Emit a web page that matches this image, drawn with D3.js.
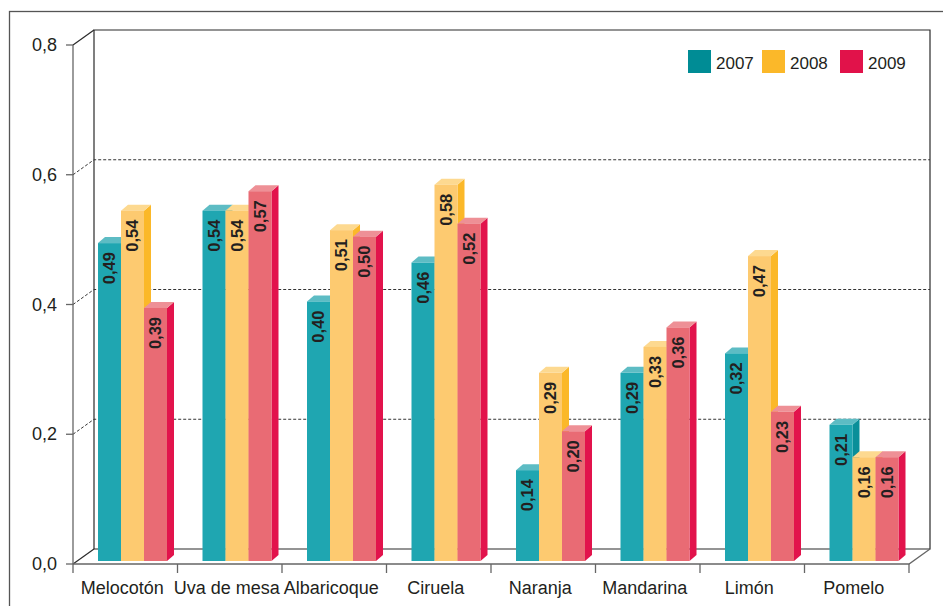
<!DOCTYPE html>
<html>
<head>
<meta charset="utf-8">
<script src="https://cdn.jsdelivr.net/npm/d3@7"></script>
<style>
  body { margin: 0; background: #fff; }
  text { font-family: "Liberation Sans", Arial, sans-serif; fill: #231f20; }
</style>
</head>
<body>
<div id="chart"></div>
<script>
// data
const categories = ["Melocotón", "Uva de mesa", "Albaricoque", "Ciruela", "Naranja", "Mandarina", "Limón", "Pomelo"];
const years = ["2007", "2008", "2009"];
const values2007 = [0.49, 0.54, 0.40, 0.46, 0.14, 0.29, 0.32, 0.21];
const values2008 = [0.54, 0.54, 0.51, 0.58, 0.29, 0.33, 0.47, 0.16];
const values2009 = [0.39, 0.57, 0.50, 0.52, 0.20, 0.36, 0.23, 0.16];
const yTicks = [0, 0.2, 0.4, 0.6, 0.8];

const series = [values2007, values2008, values2009];
const legendColors = ["#008c95", "#fbb829", "#e1124a"];
const frontColors = ["#1fa6b1", "#fdca70", "#e96b74"];
const sideColors = ["#0a8f99", "#fbb829", "#e2134c"];
const topColors = ["#5dbcc4", "#fdd990", "#ee9096"];

const W = 943, H = 606;
// 3d wall offset and bar depth offset
const wallDx = 21, wallDy = -15;
const barDx = 7, barDy = -6;

const svg = d3.select("#chart").append("svg")
  .attr("width", W)
  .attr("height", H);

// outer frame
svg.append("rect")
  .attr("x", 9.5).attr("y", 11.5)
  .attr("width", 960).attr("height", 620)
  .attr("fill", "none")
  .attr("stroke", "#555")
  .attr("stroke-width", 1.3);

const x = d3.scaleBand()
  .domain(categories)
  .range([73, 909])
  .padding(0);

const y = d3.scaleLinear()
  .domain([0, 0.8])
  .range([564, 45]);

const x1 = d3.scaleBand()
  .domain(years)
  .range([0, 69])
  .padding(0);

const fmt = v => d3.format(".2f")(v).replace(".", ",");
const fmtAxis = v => d3.format(".1f")(v).replace(".", ",");

const x0 = x.range()[0], xEnd = x.range()[1];

// back wall
const wall = svg.append("g").attr("stroke", "#2b2b2b").attr("stroke-width", 1.2).attr("fill", "none");
wall.append("path")
  .attr("d", `M${x0 + wallDx},${y(0) + wallDy}V${y(0.8) + wallDy}H${xEnd + wallDx}V${y(0) + wallDy}H${x0 + wallDx}`);
wall.append("line")
  .attr("x1", x0).attr("y1", y(0.8))
  .attr("x2", x0 + wallDx).attr("y2", y(0.8) + wallDy);

// gridlines
const grid = svg.append("g")
  .attr("stroke", "#333")
  .attr("stroke-width", 1)
  .attr("stroke-dasharray", "3,2");
yTicks.filter(t => t > 0 && t < 0.8).forEach(t => {
  grid.append("path")
    .attr("fill", "none")
    .attr("d", `M${x0},${y(t)}L${x0 + wallDx},${y(t) + wallDy}H${xEnd + wallDx}`);
});

// floor
const floor = svg.append("g").attr("stroke", "#2b2b2b").attr("stroke-width", 1.2).attr("fill", "none");
floor.append("line")
  .attr("x1", x0).attr("y1", y(0))
  .attr("x2", x0 + wallDx).attr("y2", y(0) + wallDy);

// bars
const barBase = -3;
categories.forEach((c, ci) => {
  const g = svg.append("g").attr("transform", `translate(${x(c) + 25},${barBase})`);
  years.forEach((yr, si) => {
    const v = series[si][ci];
    const bx = x1(yr), bw = x1.bandwidth();
    const top = y(v), bottom = y(0);
    // side face
    g.append("path")
      .attr("d", `M${bx + bw},${top}L${bx + bw + barDx},${top + barDy}V${bottom + barDy}L${bx + bw},${bottom}Z`)
      .attr("fill", sideColors[si]);
    // top face
    g.append("path")
      .attr("d", `M${bx},${top}L${bx + barDx},${top + barDy}H${bx + bw + barDx}L${bx + bw},${top}Z`)
      .attr("fill", topColors[si]);
    // front face
    g.append("rect")
      .attr("x", bx).attr("y", top)
      .attr("width", bw).attr("height", bottom - top)
      .attr("fill", frontColors[si]);
    // value label
    g.append("text")
      .attr("transform", `translate(${bx + bw / 2},${top + 9}) rotate(-90)`)
      .attr("text-anchor", "end")
      .attr("dy", "0.35em")
      .style("font-size", "16.5px")
      .style("font-weight", "bold")
      .text(fmt(v));
  });
});

// front floor line + category ticks
const axisG = svg.append("g").attr("stroke", "#666").attr("stroke-width", 1.3).attr("fill", "none");
axisG.append("path")
  .attr("d", `M${x0},${y(0)}H${xEnd}L${xEnd + wallDx},${y(0) + wallDy}`);
categories.concat([null]).forEach((c, i) => {
  const tx = c === null ? xEnd : x(c);
  axisG.append("line")
    .attr("x1", tx).attr("y1", y(0))
    .attr("x2", tx).attr("y2", y(0) + 9);
});

// y axis front line + ticks
axisG.append("line")
  .attr("x1", x0).attr("y1", y(0))
  .attr("x2", x0).attr("y2", y(0.8));
yTicks.forEach(t => {
  axisG.append("line")
    .attr("x1", x0 - 7).attr("y1", y(t))
    .attr("x2", x0).attr("y2", y(t));
});

svg.append("g").selectAll("text")
  .data(yTicks)
  .join("text")
    .attr("x", x0 - 16)
    .attr("y", d => y(d) + 6)
    .attr("text-anchor", "end")
    .style("font-size", "18px")
    .text(d => fmtAxis(d));

svg.append("g").selectAll("text")
  .data(categories)
  .join("text")
    .attr("x", d => x(d) + x.bandwidth() / 2 - 3)
    .attr("y", 594)
    .attr("text-anchor", "middle")
    .style("font-size", "18px")
    .text(d => d);

// legend
const legendX = [688, 762, 840];
const legend = svg.append("g");
years.forEach((yr, i) => {
  legend.append("rect")
    .attr("x", legendX[i]).attr("y", 50)
    .attr("width", 23).attr("height", 23)
    .attr("fill", legendColors[i]);
  legend.append("text")
    .attr("x", legendX[i] + 28).attr("y", 69)
    .style("font-size", "17px")
    .text(yr);
});
</script>
</body>
</html>
